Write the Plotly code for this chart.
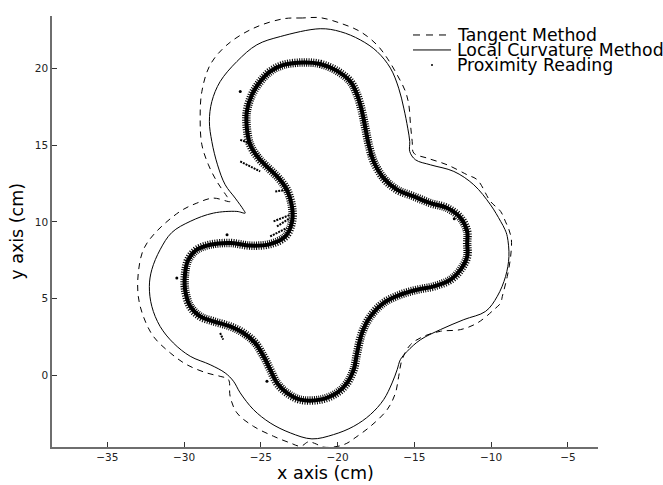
import plotly.graph_objects as go

# ---- Tangent Method (dashed) outline ----
tangent_x = [-21.13, -22.3, -23.52, -25.48, -27.21, -28.30, -28.84, -28.95, -28.84, -28.41,
             -27.86, -27.21, -27.00, -28.09, -29.17, -30.26, -31.89, -32.65, -32.98, -32.98,
             -32.65, -32.00, -30.90, -29.82, -28.52, -27.65, -27.11, -27.00, -26.56, -25.48,
             -24.17, -23.10, -22.40, -21.90, -21.50, -20.90, -20.00, -19.40, -18.86, -17.86,
             -16.77, -16.23, -16.02, -15.80, -15.25, -14.39, -13.30, -11.99, -10.90, -9.82,
             -9.38, -9.27, -8.95, -8.73, -8.68, -8.84, -9.06, -9.38, -10.04, -10.90,
             -11.56, -12.86, -14.17, -15.04, -15.14, -15.25, -15.36, -15.58, -16.12, -16.77,
             -17.43, -18.52, -19.82, -21.13]
tangent_y = [23.32, 23.30, 23.25, 22.63, 21.54, 20.24, 18.50, 16.77, 15.03, 13.72,
             12.63, 11.66, 11.33, 11.55, 11.22, 10.68, 9.27, 8.18, 6.66, 5.14,
             3.83, 2.53, 1.45, 0.68, 0.14, -0.08, -0.29, -1.38, -2.46, -3.34,
             -3.99, -4.42, -4.64, -4.35, -4.45, -4.70, -4.65, -4.45, -4.09, -3.34,
             -2.25, -1.16, -0.08, 1.01, 1.99, 2.53, 2.86, 2.97, 3.40, 4.27,
             4.71, 5.14, 6.44, 7.74, 8.83, 9.49, 10.00, 10.68, 11.33, 12.74,
             13.07, 13.72, 14.16, 14.49, 15.24, 16.33, 17.63, 18.50, 19.59, 20.68,
             21.54, 22.41, 22.96, 23.32]

# ---- Local Curvature Method (solid) outline ----
curv_x = [-21.13, -23.73, -25.26, -26.56, -27.65, -28.19, -28.35, -28.19, -27.82, -27.32,
          -26.67, -26.13, -26.02, -26.56, -28.09, -29.60, -30.80, -31.56, -32.10, -32.26,
          -32.10, -31.56, -30.70, -29.60, -28.30, -27.32, -26.78, -26.34, -25.48, -24.39,
          -23.08, -21.67, -20.26, -18.95, -17.86, -17.00, -16.45, -16.12, -15.91, -15.47,
          -14.60, -13.30, -11.78, -10.36, -9.60, -9.06, -8.84, -8.95, -9.10, -9.38,
          -10.04, -11.13, -12.43, -13.95, -14.93, -15.30, -15.30, -15.43, -15.69, -16.02,
          -16.56, -17.43, -18.52, -19.82, -21.13]
curv_y = [22.60, 22.09, 21.55, 20.46, 19.15, 17.85, 16.55, 15.24, 13.72, 12.42,
          11.55, 10.79, 10.57, 10.68, 10.57, 10.03, 9.30, 8.18, 6.88, 5.79,
          4.49, 3.18, 2.10, 1.23, 0.68, 0.14, -0.40, -1.16, -2.25, -3.12,
          -3.77, -4.16, -3.88, -3.34, -2.57, -1.60, -0.51, 0.36, 1.01, 1.55,
          2.31, 2.97, 3.62, 4.16, 5.14, 6.44, 7.74, 9.05, 9.50, 10.03,
          11.11, 12.42, 13.29, 13.72, 14.05, 14.59, 15.24, 16.11, 17.42, 18.72,
          20.03, 21.11, 21.87, 22.41, 22.60]

# ---- Proximity Reading band (centre of the dotted band) ----
prox_x = [-22.20, -21.13, -20.04, -19.17, -18.73, -18.41, -18.19, -17.97, -17.65, -17.00,
          -16.12, -15.04, -13.95, -12.86, -11.99, -11.56, -11.56, -11.56, -11.99, -12.64,
          -13.73, -14.82, -15.91, -17.00, -17.86, -18.41, -18.73, -18.95, -19.38, -20.04,
          -21.13, -22.43, -23.30, -23.95, -24.39, -24.82, -25.37, -26.13, -27.00, -28.09,
          -28.95, -29.60, -29.93, -29.93, -29.72, -29.17, -28.30, -27.00, -25.69, -24.40,
          -23.40, -22.97, -22.97, -23.30, -23.84, -24.39, -25.15, -25.69, -25.91, -25.91,
          -25.58, -25.04, -24.39, -23.52, -22.20]
prox_y = [20.40, 20.30, 19.85, 19.15, 18.29, 17.20, 16.11, 15.03, 13.94, 12.85,
          12.09, 11.66, 11.22, 10.90, 10.25, 9.37, 8.62, 7.74, 6.88, 6.23,
          5.79, 5.57, 5.25, 4.71, 3.83, 2.75, 1.45, 0.36, -0.51, -1.16,
          -1.60, -1.60, -1.16, -0.51, 0.36, 1.23, 2.10, 2.75, 3.18, 3.51,
          3.83, 4.49, 5.57, 6.66, 7.53, 8.18, 8.51, 8.62, 8.45, 8.55,
          9.05, 10.00, 11.00, 12.09, 12.85, 13.40, 14.16, 15.03, 16.11, 17.20,
          18.29, 19.15, 19.81, 20.24, 20.40]

# short spurs of readings branching off the band
spur_x = [-26.34, -25.04, None, -24.06, -23.30, None, -24.17, -23.08, None,
          -23.95, -23.10, None, -24.39, -23.30, None, -27.65, -27.45, None, -26.34, -25.60]
spur_y = [13.94, 13.29, None, 11.98, 12.09, None, 10.03, 10.46, None,
          9.70, 10.25, None, 9.05, 9.60, None, 2.75, 2.31, None, 15.35, 15.10]

# a few isolated readings
lone_x = [-30.47, -24.60, -26.34, -27.20, -17.90, -12.40]
lone_y = [6.34, -0.40, 18.50, 9.16, 14.40, 10.20]

legend_labels = ["Tangent Method", "Local Curvature Method", "Proximity Reading"]
x_ticks = [-35, -30, -25, -20, -15, -10, -5]
y_ticks = [0, 5, 10, 15, 20]

FONT = "DejaVu Sans, Liberation Sans, sans-serif"

fig = go.Figure()
fig.add_trace(go.Scatter(x=tangent_x, y=tangent_y, mode="lines",
                         line=dict(color="black", width=1, dash="6px,5px"),
                         line_shape="spline", showlegend=False, hoverinfo="skip"))
fig.add_trace(go.Scatter(x=curv_x, y=curv_y, mode="lines",
                         line=dict(color="black", width=1),
                         line_shape="spline", showlegend=False, hoverinfo="skip"))
# speckled outer part of the dotted band
fig.add_trace(go.Scatter(x=prox_x, y=prox_y, mode="lines",
                         line=dict(color="black", width=8.5, dash="1px,1.3px"),
                         line_shape="spline", showlegend=False, hoverinfo="skip"))
# dense core of the band
fig.add_trace(go.Scatter(x=prox_x, y=prox_y, mode="lines",
                         line=dict(color="black", width=4),
                         line_shape="spline", showlegend=False, hoverinfo="skip"))
fig.add_trace(go.Scatter(x=spur_x, y=spur_y, mode="lines",
                         line=dict(color="black", width=2, dash="2px,1px"),
                         showlegend=False, hoverinfo="skip"))
fig.add_trace(go.Scatter(x=lone_x, y=lone_y, mode="markers",
                         marker=dict(color="black", size=3),
                         showlegend=False, hoverinfo="skip"))

# plot area in pixels: x 52..598, y 16..447.5
PL, PR, PT, PB = 52, 598, 16, 447.5
W, H = 663, 485

def px2paper_x(px):
    return (px - PL) / (PR - PL)

def px2paper_y(py):
    return (PB - py) / (PB - PT)

shapes = []
annotations = []
rows = [35, 50, 65]
# legend samples
shapes.append(dict(type="line", xref="paper", yref="paper",
                   x0=px2paper_x(413), x1=px2paper_x(451),
                   y0=px2paper_y(rows[0]), y1=px2paper_y(rows[0]),
                   line=dict(color="black", width=1, dash="7px,6px")))
shapes.append(dict(type="line", xref="paper", yref="paper",
                   x0=px2paper_x(413), x1=px2paper_x(451),
                   y0=px2paper_y(rows[1]), y1=px2paper_y(rows[1]),
                   line=dict(color="black", width=1)))
shapes.append(dict(type="circle", xref="paper", yref="paper",
                   x0=px2paper_x(431), x1=px2paper_x(433),
                   y0=px2paper_y(64), y1=px2paper_y(66),
                   fillcolor="black", line=dict(color="black", width=0)))
for lab, r in zip(legend_labels, rows):
    annotations.append(dict(text=lab, xref="paper", yref="paper",
                            x=px2paper_x(455), y=px2paper_y(r),
                            xanchor="left", yanchor="middle", showarrow=False,
                            font=dict(family=FONT, size=17.3, color="black")))

annotations.append(dict(text="x axis (cm)", xref="paper", yref="paper",
                        x=0.5, y=px2paper_y(473.5), xanchor="center", yanchor="middle",
                        showarrow=False, font=dict(family=FONT, size=17.5, color="black")))
annotations.append(dict(text="y axis (cm)", xref="paper", yref="paper",
                        x=px2paper_x(17), y=px2paper_y(232), xanchor="center",
                        yanchor="middle", textangle=-90, showarrow=False,
                        font=dict(family=FONT, size=17.5, color="black")))

axis_common = dict(showgrid=False, zeroline=False, showline=True,
                   linecolor="#6e6e6e", linewidth=1.5, ticks="inside",
                   ticklen=5, tickcolor="#333", tickwidth=1,
                   tickfont=dict(family=FONT, size=10.5, color="#222"))

fig.update_layout(
    width=W, height=H,
    margin=dict(l=PL, r=W - PR, t=PT, b=H - PB, pad=0),
    paper_bgcolor="white", plot_bgcolor="white",
    showlegend=False,
    xaxis=dict(range=[-38.6, -3.04], tickvals=x_ticks, **axis_common),
    yaxis=dict(range=[-4.69, 23.43], tickvals=y_ticks, **axis_common),
    shapes=shapes, annotations=annotations,
)

fig.write_html("out.html", config={"displayModeBar": False},
               post_script="document.body.style.margin='0';document.body.style.overflow='hidden';")
